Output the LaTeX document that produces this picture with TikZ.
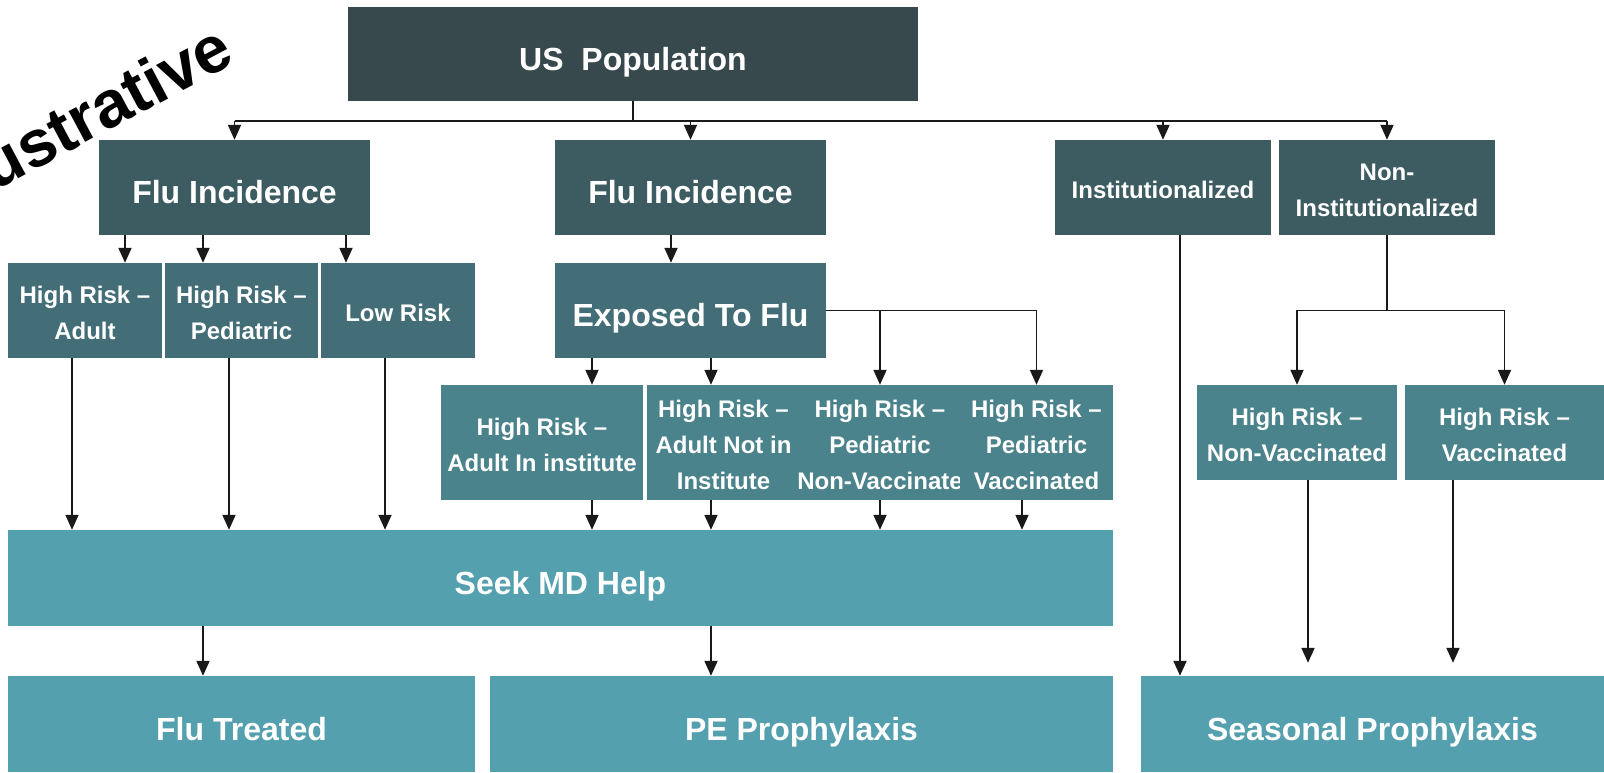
\documentclass[tikz,border=0pt]{standalone}
\usepackage{fontspec}
\setmainfont{Liberation Sans}
\usetikzlibrary{arrows.meta,calc}
\definecolor{PopDark}{HTML}{37494D}
\definecolor{IncDark}{HTML}{3D5C62}
\definecolor{RiskMid}{HTML}{446E77}
\definecolor{RiskLight}{HTML}{4A838B}
\definecolor{HelpTeal}{HTML}{54A0AE}
\newcommand{\boxlift}{\rule{0pt}{23pt}}

\begin{document}
\begin{tikzpicture}[x=1pt,y=-1pt,
    box/.style={fill=#1,text=white,align=center,inner sep=0pt},
    big/.style={font=\fontsize{32}{38}\selectfont\bfseries,text height=39.6pt,text depth=7pt},
    small/.style={font=\fontsize{24}{36}\selectfont\bfseries},
    wire/.style={line width=1.8pt,black!90},
    arr/.style={wire,-{Triangle[width=13pt,length=15pt]}}]
  \useasboundingbox (0,0) rectangle (1604,772);
  \clip (0,0) rectangle (1604,772);

  % watermark
  \node[rotate=28,anchor=base east,font=\fontsize{66}{70}\selectfont\bfseries] (stamp) at (240.5,60.6) {Illustrative};

  % top levels
  \node[box=PopDark,big,minimum width=570pt,minimum height=94pt] (pop) at (633,54) {US\ \ Population};
  \node[box=IncDark,big,minimum width=271pt,minimum height=95pt] (fluA) at (234.5,187.5) {Flu Incidence};
  \node[box=IncDark,big,minimum width=271pt,minimum height=95pt] (fluB) at (690.5,187.5) {Flu Incidence};
  \node[box=IncDark,small,minimum width=216pt,minimum height=95pt] (inst) at (1163,187.5) {\boxlift Institutionalized};
  \node[box=IncDark,small,minimum width=216pt,minimum height=95pt] (noninst) at (1387,187.5) {\boxlift Non-\\Institutionalized};

  % risk groups
  \node[box=RiskMid,small,minimum width=154pt,minimum height=95pt] (hrA) at (85,310.5) {\boxlift High Risk --\\Adult};
  \node[box=RiskMid,small,minimum width=153pt,minimum height=95pt] (hrP) at (241.5,310.5) {\boxlift High Risk --\\Pediatric};
  \node[box=RiskMid,small,minimum width=154pt,minimum height=95pt] (lowR) at (398,310.5) {\boxlift Low Risk};
  \node[box=RiskMid,big,minimum width=271pt,minimum height=95pt] (expo) at (690.5,310.5) {Exposed To Flu};

  \node[box=RiskLight,small,minimum width=202pt,minimum height=115pt] (r3a) at (542,442.5) {\boxlift High Risk --\\Adult In institute};
  \node[box=RiskLight,small,minimum width=153pt,minimum height=115pt] (r3b) at (723.5,442.5) {\boxlift High Risk --\\Adult Not in\\Institute};
  \node[box=RiskLight,small,minimum width=154pt,minimum height=115pt] (r3c) at (880,442.5) {\boxlift High Risk --\\Pediatric\\Non-Vaccinate};
  \node[box=RiskLight,small,minimum width=153pt,minimum height=115pt] (r3d) at (1036.5,442.5) {\boxlift High Risk --\\Pediatric\\Vaccinated};

  \node[box=RiskLight,small,minimum width=200pt,minimum height=95pt] (nonvac) at (1297,432.5) {\boxlift High Risk --\\Non-Vaccinated};
  \node[box=RiskLight,small,minimum width=199pt,minimum height=95pt] (vac) at (1504.5,432.5) {\boxlift High Risk --\\Vaccinated};

  % outcomes
  \node[box=HelpTeal,big,minimum width=1105pt,minimum height=96pt] (seek) at (560.5,578) {Seek MD Help};
  \node[box=HelpTeal,big,minimum width=467pt,minimum height=96pt] (treated) at (241.5,724) {Flu Treated};
  \node[box=HelpTeal,big,minimum width=623pt,minimum height=96pt] (pe) at (801.5,724) {PE Prophylaxis};
  \node[box=HelpTeal,big,minimum width=463pt,minimum height=96pt] (seasonal) at (1372.5,724) {Seasonal Prophylaxis};

  % population split
  \coordinate (bus) at ($(pop.south)+(0,20)$);
  \draw[wire] (pop.south) -- (bus);
  \draw[wire] (bus -| fluA.north) -- (bus -| noninst.north);
  \foreach \n in {fluA,fluB,inst,noninst}
    \draw[arr] (bus -| \n.north) -- (\n.north);

  % incidence to risk groups
  \foreach \n/\dx in {hrA/40,hrP/-38.5,lowR/-52}
    \draw[arr] ([xshift=\dx pt]\n.north |- fluA.south) -- ([xshift=\dx pt]\n.north);
  \draw[arr] ([xshift=-19.5pt]expo.north |- fluB.south) -- ([xshift=-19.5pt]expo.north);
  \foreach \n/\dx in {r3a/50,r3b/-12.5}
    \draw[arr] ([xshift=\dx pt]\n.north |- expo.south) -- ([xshift=\dx pt]\n.north);
  \draw[arr] (expo.east) -| (r3c.north);
  \draw[arr] (expo.east) -| (r3d.north);

  % risk groups to MD help
  \foreach \n/\dx in {hrA/-13,hrP/-12.5,lowR/-13,r3a/50,r3b/-12.5,r3c/0,r3d/-14.5}
    \draw[arr] ([xshift=\dx pt]\n.south) -- ([xshift=\dx pt]\n.south |- seek.north);
  \draw[arr] ([xshift=-38.5pt]treated.north |- seek.south) -- ([xshift=-38.5pt]treated.north);
  \draw[arr] ([xshift=-90.5pt]pe.north |- seek.south) -- ([xshift=-90.5pt]pe.north);

  % institution branch
  \draw[arr] ([xshift=17pt]inst.south) -- ([xshift=17pt]inst.south |- seasonal.north);
  \coordinate (split) at (noninst.south |- expo.east);
  \draw[wire] (noninst.south) -- (split);
  \draw[arr] (split) -| (nonvac.north);
  \draw[arr] (split) -| (vac.north);
  \coordinate (dropA) at ([xshift=11pt,yshift=13pt]nonvac.south |- seasonal.north);
  \coordinate (dropB) at ([xshift=-51.5pt,yshift=13pt]vac.south |- seasonal.north);
  \draw[arr] ([xshift=11pt]nonvac.south) -- (dropA);
  \draw[arr] ([xshift=-51.5pt]vac.south) -- (dropB);
\end{tikzpicture}
\end{document}
